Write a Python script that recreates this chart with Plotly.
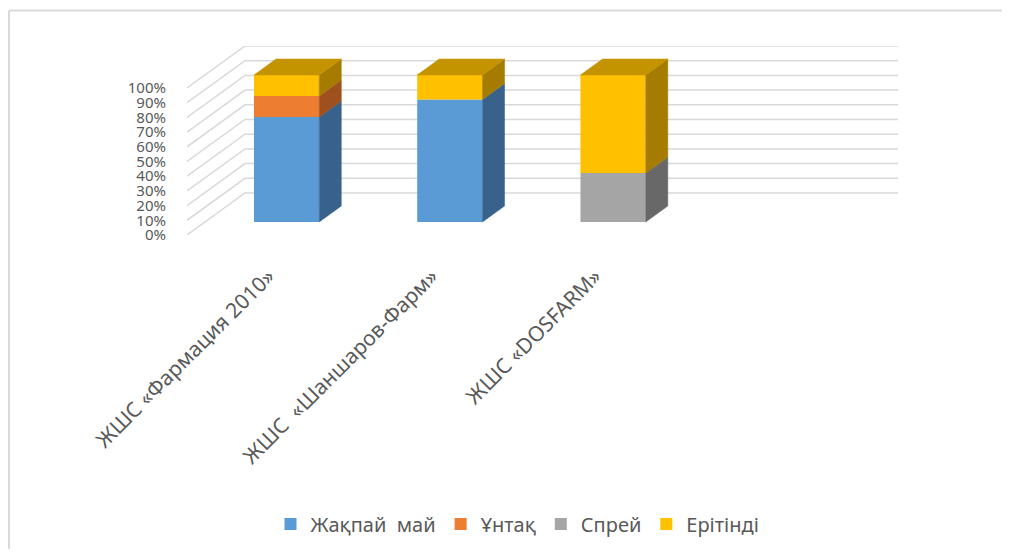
import plotly.graph_objects as go

# ---------------- data ----------------
categories = ["ЖШС «Фармация 2010»", "ЖШС\u00a0 «Шаншаров-Фарм»", "ЖШС «DOSFARM»"]
series_names = ["Жақпай\u00a0 май", "Ұнтақ", "Спрей", "Ерітінді"]
zhakpai_mai = [71.4, 83.3, 0.0]
untak = [14.3, 0.0, 0.0]
sprei = [0.0, 0.0, 33.3]
eritindi = [14.3, 16.7, 66.7]
y_tick_values = [0, 10, 20, 30, 40, 50, 60, 70, 80, 90, 100]
y_tick_labels = ["0%", "10%", "20%", "30%", "40%", "50%", "60%", "70%", "80%", "90%", "100%"]

# ---------------- style ----------------
front_colors = ["#5B9BD5", "#ED7D31", "#A5A5A5", "#FFC000"]
side_colors = ["#38628C", "#9E501E", "#686868", "#A67C00"]
top_colors = ["#4A80B2", "#C76626", "#8A8A8A", "#C49400"]
grid_color = "#D9D9D9"
text_color = "#595959"
FONT = "Noto Sans"

FIG_W, FIG_H = 994, 541
M_L, M_R, M_T, M_B = 179, 104, 38, 314
N_SLOTS = 4            # category slots on the floor (last one empty)
BAR_WIDTH = 0.4
DEPTH_PX_X, DEPTH_PX_Y = 58, 42
D_FRONT, D_BACK = 0.31, 0.69

plot_w = FIG_W - M_L - M_R
plot_h = FIG_H - M_T - M_B
x_unit = (plot_w - DEPTH_PX_X) / N_SLOTS
y_unit = (plot_h - DEPTH_PX_Y) / 100.0
KX = DEPTH_PX_X / x_unit
KY = DEPTH_PX_Y / y_unit
x_range = [-0.5, N_SLOTS - 0.5 + KX]
y_range = [0, 100 + KY]


def proj(x, y, d):
    return x + d * KX, y + d * KY


series_values = [zhakpai_mai, untak, sprei, eritindi]

fig = go.Figure()

# walls' gridlines (below traces)
shapes = []
for v in y_tick_values:
    x0, y0 = proj(-0.5, v, 0)
    x1, y1 = proj(-0.5, v, 1)
    x2, y2 = proj(N_SLOTS - 0.5, v, 1)
    shapes.append(dict(type="path", xref="x", yref="y", layer="below",
                       path=f"M{x0},{y0} L{x1},{y1} L{x2},{y2}",
                       line=dict(color=grid_color, width=1.5)))

# front faces as bars
cat_idx = list(range(len(categories)))
bases = [0.0] * len(categories)
seg_info = []  # (cat, y0, y1, series)
for s, vals in enumerate(series_values):
    xs = [proj(c, 0, D_FRONT)[0] for c in cat_idx]
    bs = [proj(0, bases[c], D_FRONT)[1] for c in cat_idx]
    fig.add_trace(go.Bar(x=xs, y=vals, base=bs, width=BAR_WIDTH,
                         marker=dict(color=front_colors[s], line=dict(width=0)),
                         name=series_names[s], hoverinfo="skip"))
    for c in cat_idx:
        if vals[c] > 0:
            seg_info.append((c, bases[c], bases[c] + vals[c], s))
        bases[c] += vals[c]

# side faces and top faces
for c in cat_idx:
    segs = [g for g in seg_info if g[0] == c]
    xr = c + BAR_WIDTH / 2
    xl = c - BAR_WIDTH / 2
    for (_, y0, y1, s) in segs:
        pts = [proj(xr, y0, D_FRONT), proj(xr, y1, D_FRONT),
               proj(xr, y1, D_BACK), proj(xr, y0, D_BACK), proj(xr, y0, D_FRONT)]
        fig.add_trace(go.Scatter(x=[p[0] for p in pts], y=[p[1] for p in pts],
                                 mode="lines", fill="toself",
                                 fillcolor=side_colors[s],
                                 line=dict(color=side_colors[s], width=0.5),
                                 showlegend=False, hoverinfo="skip"))
    if segs:
        _, _, ytop, s = max(segs, key=lambda g: g[2])
        pts = [proj(xl, ytop, D_FRONT), proj(xr, ytop, D_FRONT),
               proj(xr, ytop, D_BACK), proj(xl, ytop, D_BACK), proj(xl, ytop, D_FRONT)]
        fig.add_trace(go.Scatter(x=[p[0] for p in pts], y=[p[1] for p in pts],
                                 mode="lines", fill="toself",
                                 fillcolor=top_colors[s],
                                 line=dict(color=top_colors[s], width=0.5),
                                 showlegend=False, hoverinfo="skip"))

# chart border (left and top edges)
bx = (1 - M_L) / plot_w
by = (FIG_H - 2.5 - M_B) / plot_h
shapes.append(dict(type="line", xref="paper", yref="paper", x0=bx, x1=bx,
                   y0=-M_B / plot_h, y1=by, line=dict(color="#D9D9D9", width=2)))
shapes.append(dict(type="line", xref="paper", yref="paper", x0=bx, x1=(FIG_W - M_L) / plot_w,
                   y0=by, y1=by, line=dict(color="#D9D9D9", width=2)))

fig.update_layout(
    width=FIG_W, height=FIG_H,
    margin=dict(l=M_L, r=M_R, t=M_T, b=M_B, autoexpand=False),
    paper_bgcolor="white", plot_bgcolor="white",
    barmode="overlay",
    shapes=shapes,
    font=dict(family=FONT, color=text_color),
    xaxis=dict(range=x_range, showgrid=False, zeroline=False, showline=False,
               tickmode="array", tickvals=cat_idx, ticktext=categories,
               tickangle=-45, ticks="", ticklabelstandoff=24,
               tickfont=dict(size=21, color=text_color, family=FONT), fixedrange=True),
    yaxis=dict(range=y_range, showgrid=False, zeroline=False, showline=False,
               tickmode="array", tickvals=y_tick_values, ticktext=y_tick_labels,
               ticks="", ticklabelstandoff=20,
               tickfont=dict(size=15, color=text_color, family=FONT), fixedrange=True),
    legend=dict(orientation="h", xref="container", yref="container",
                x=(517.5 - 8) / FIG_W, xanchor="center",
                y=1 - (524 - 8) / FIG_H, yanchor="middle",
                font=dict(size=20, color=text_color, family=FONT),
                traceorder="normal", itemclick=False, itemdoubleclick=False),
    showlegend=True,
)

fig.write_html("out.html")
